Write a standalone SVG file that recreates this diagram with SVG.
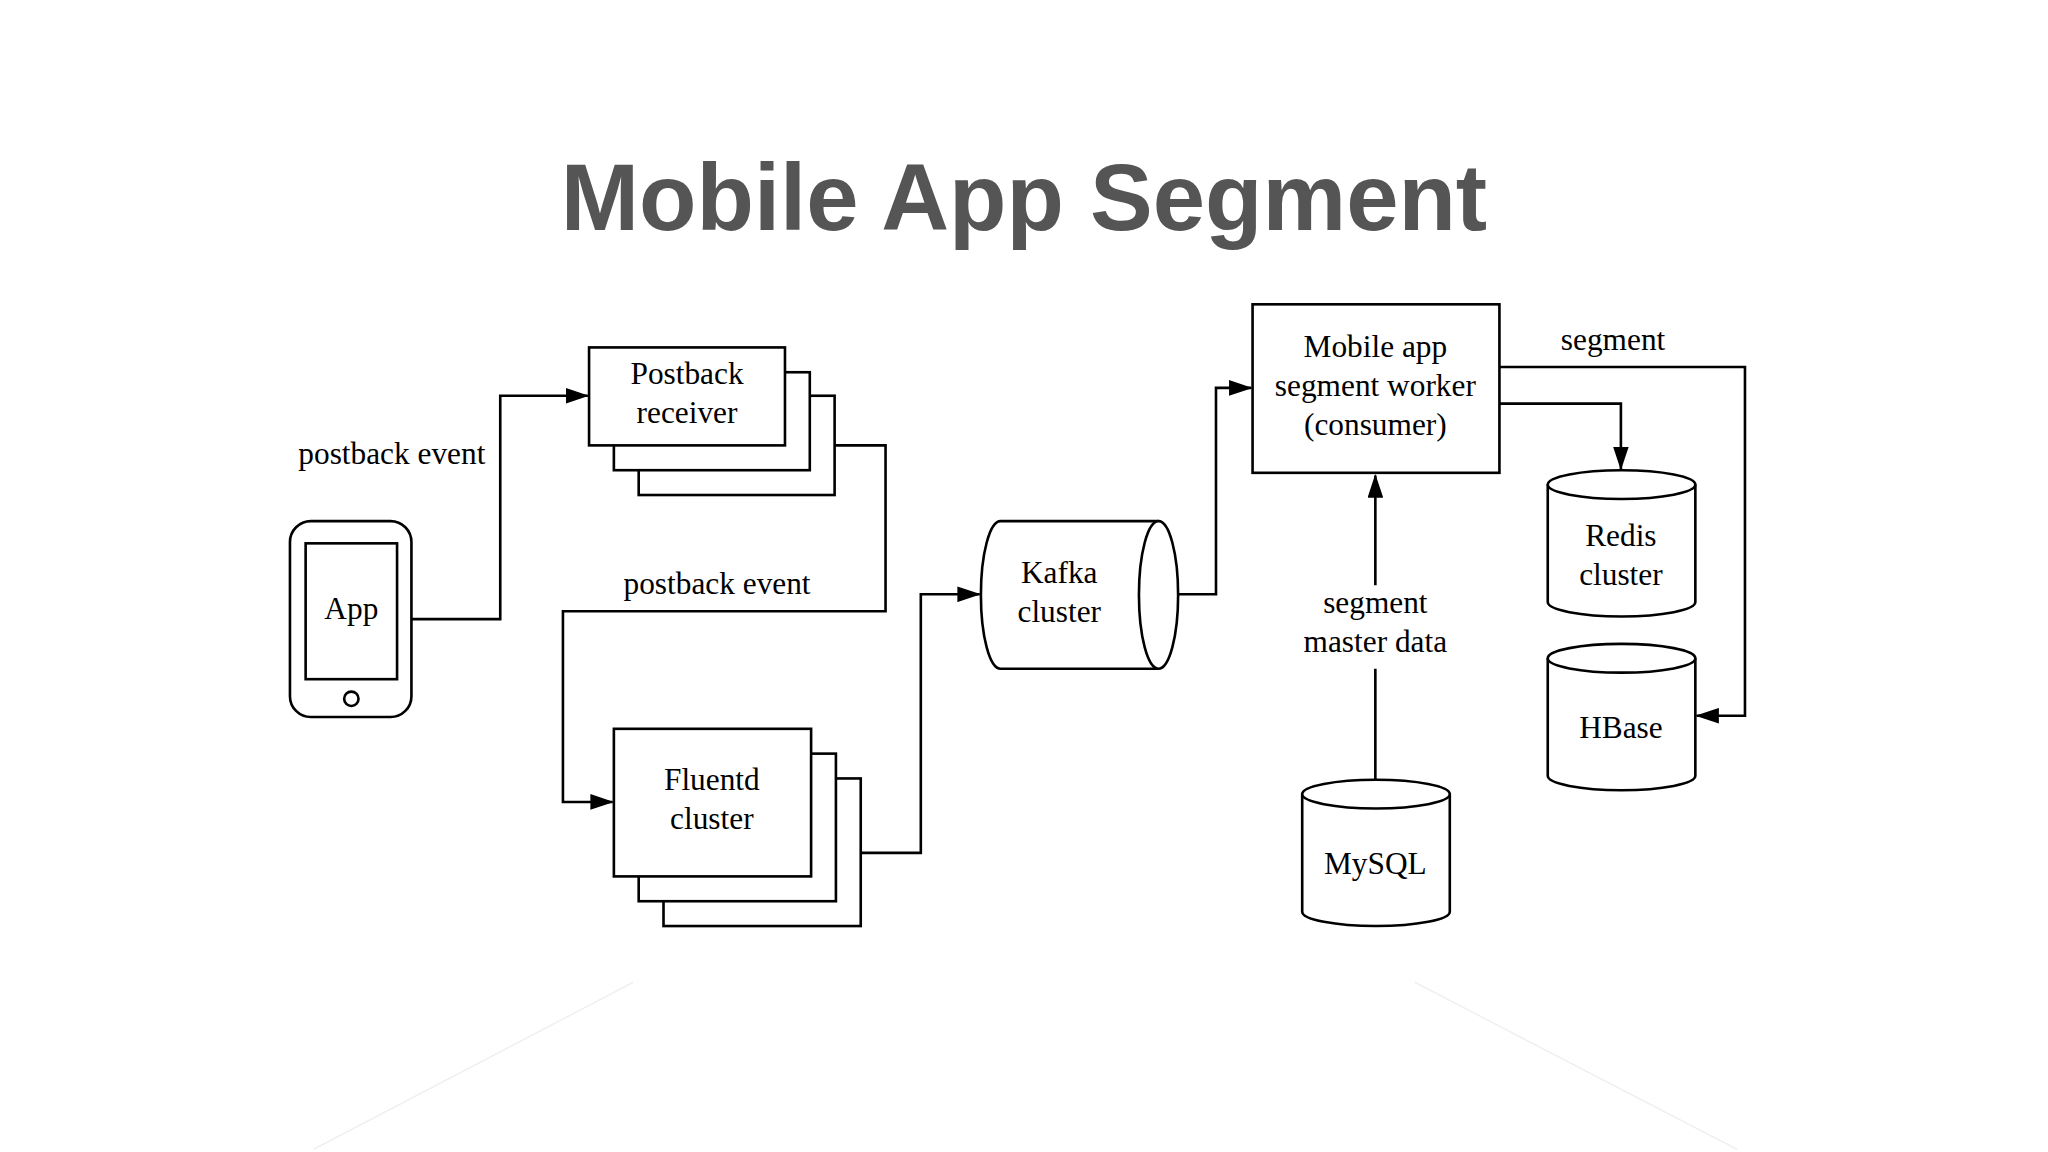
<svg xmlns="http://www.w3.org/2000/svg" width="2048" height="1152" viewBox="0 0 2048 1152">
<style>
.s{fill:#fff;stroke:#000;stroke-width:2}
.c{fill:none;stroke:#000;stroke-width:2}
text{font-family:"Liberation Serif",serif;font-size:24px;fill:#000;text-anchor:middle}
.t{font-family:"Liberation Sans",Arial,sans-serif;font-weight:bold;font-size:72px;fill:#555}
</style>
<defs>
<marker id="b" markerWidth="18" markerHeight="12" refX="17" refY="6" orient="auto" markerUnits="userSpaceOnUse"><path d="M0,0 L18,6 L0,12 z" fill="#000"/></marker></defs>
<rect width="2048" height="1152" fill="#fff"/>
<g transform="scale(1.30612)">
<text class="t" x="784" y="176">Mobile App Segment</text>
<g stroke="#eee" stroke-width="1"><line x1="485" y1="752" x2="240" y2="880"/><line x1="1083" y1="752" x2="1330" y2="880"/></g>
<g id="connectors">
<path class="c" d="M315,474 H383 V303 H450" marker-end="url(#b)"/>
<path class="c" d="M639,341 H678 V468 H431 V614 H469" marker-end="url(#b)"/>
<path class="c" d="M659,653 H705 V455 H750" marker-end="url(#b)"/>
<path class="c" d="M902,455 H931 V297 H958" marker-end="url(#b)"/>
<path class="c" d="M1148,309 H1241 V359" marker-end="url(#b)"/>
<path class="c" d="M1148,281 H1336 V548 H1299" marker-end="url(#b)"/>
<path class="c" d="M1053,597 V512 M1053,448 V364" marker-end="url(#b)"/>
<text x="300" y="355">postback event</text>
<text x="549" y="455">postback event</text>
<text x="1235" y="268">segment</text>
<text x="1053" y="469">segment</text>
<text x="1053" y="499">master data</text>
</g>
<g id="app"><rect class="s" x="222" y="399" width="93" height="150" rx="16"/><rect class="s" x="234" y="416" width="70" height="104"/><circle class="s" cx="269" cy="535" r="5.5"/><text x="269" y="474">App</text></g>
<g id="postback"><rect class="s" x="489" y="303" width="150" height="76"/><rect class="s" x="470" y="285" width="150" height="75"/><rect class="s" x="451" y="266" width="150" height="75"/><text x="526" y="294">Postback</text><text x="526" y="324">receiver</text></g>
<g id="fluentd"><rect class="s" x="508" y="596" width="151" height="113"/><rect class="s" x="489" y="577" width="151" height="113"/><rect class="s" x="470" y="558" width="151" height="113"/><text x="545" y="605">Fluentd</text><text x="545" y="635">cluster</text></g>
<g id="kafka"><path class="s" d="M887,399 H766 A15,56.5 0 0 0 766,512 H887"/><ellipse class="s" cx="887" cy="455.5" rx="15" ry="56.5"/><text x="811" y="446">Kafka</text><text x="811" y="476">cluster</text></g>
<g id="worker"><rect class="s" x="959" y="233" width="189" height="129"/><text x="1053" y="273">Mobile app</text><text x="1053" y="303">segment worker</text><text x="1053" y="333">(consumer)</text></g>
<g id="redis"><path class="s" d="M1185,371 V461 A56.5,11 0 0 0 1298,461 V371"/><ellipse class="s" cx="1241.5" cy="371" rx="56.5" ry="11"/><text x="1241" y="418">Redis</text><text x="1241" y="448">cluster</text></g>
<g id="hbase"><path class="s" d="M1185,504 V594 A56.5,11 0 0 0 1298,594 V504"/><ellipse class="s" cx="1241.5" cy="504" rx="56.5" ry="11"/><text x="1241" y="565">HBase</text></g>
<g id="mysql"><path class="s" d="M997,608 V698 A56.5,11 0 0 0 1110,698 V608"/><ellipse class="s" cx="1053.5" cy="608" rx="56.5" ry="11"/><text x="1053" y="669">MySQL</text></g>
</g>
</svg>
